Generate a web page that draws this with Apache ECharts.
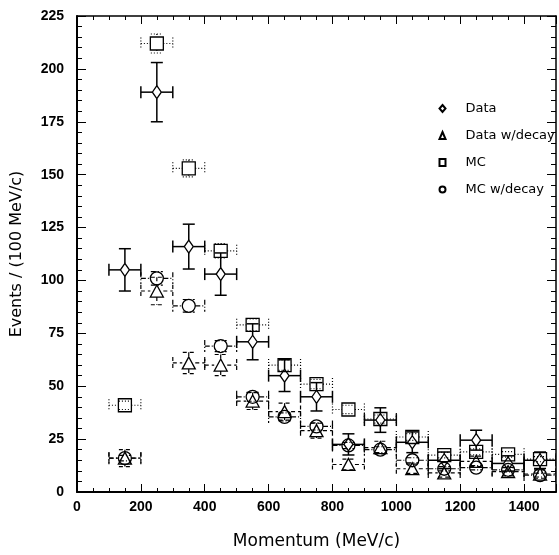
<!DOCTYPE html>
<html>
<head>
<meta charset="utf-8">
<script src="https://cdn.jsdelivr.net/npm/echarts@6/dist/echarts.min.js"></script>
<style>html,body{margin:0;padding:0;background:#fff}#c{width:559px;height:555px}</style>
</head>
<body>
<div id="c"></div>
<script>
// Bin centres (MeV/c), bin half-width 50
const binCenters = [150, 250, 350, 450, 550, 650, 750, 850, 950, 1050, 1150, 1250, 1350, 1450];

const dataVals   = [105, 189, 116, 103, 71, 55, 45, 22.5, 34, 23.5, 15, 24.5, 13.5, 15];
const dataErr    = [10, 14, 10.6, 10, 8.5, 7.5, 6.7, 5, 5.8, 4.9, 3.9, 4.7, 3.6, 3.9];

const dataDecayVals = [16, 95, 61, 60, 43, 38, 29, 13, 21, 11, 9, 14.5, 9.6, 8.5];
const dataDecayErr  = [4, 6.5, 5, 5, 4, 4, 3.5, 2.5, 3, 2.2, 2, 2.5, 2, 2];

const mcVals = [41, 212, 153, 114, 79, 60, 51, 39, 34.5, 26, 17.4, 19, 17.8, 15.5];
const mcErr  = [2, 4.5, 4, 3.4, 2.8, 2.5, 2.2, 2, 1.9, 1.6, 1.3, 1.4, 1.3, 1.2];

const mcDecayVals = [16, 101, 88, 69, 45, 35.5, 31, 22, 20, 15, 11, 11.5, 10.5, 8];
const mcDecayErr  = [1.3, 3.2, 3, 2.6, 2.1, 1.9, 1.7, 1.5, 1.4, 1.2, 1, 1, 1, 0.9];

const xTickLabels = [0, 200, 400, 600, 800, 1000, 1200, 1400];
const yTickLabels = [0, 25, 50, 75, 100, 125, 150, 175, 200, 225];

const seriesDefs = [
  {name: 'Data', vals: dataVals, err: dataErr, symbol: 'diamond', size: [9, 13], dash: null, hw: 4.5, hh: 6.5},
  {name: 'Data w/decay', vals: dataDecayVals, err: dataDecayErr, symbol: 'triangle', size: [13, 12], dash: [4, 3], hw: 6.5, hh: 6},
  {name: 'MC', vals: mcVals, err: mcErr, symbol: 'rect', size: [13, 13], dash: [1, 2], hw: 6.5, hh: 6.5},
  {name: 'MC w/decay', vals: mcDecayVals, err: mcDecayErr, symbol: 'circle', size: 13, dash: [5, 2, 1, 2], hw: 6.5, hh: 6.5}
];

const halfBin = 50;
const CAP = 6;

function makeRender(def) {
  return function (params, api) {
    const x = api.value(0), y = api.value(1), e = api.value(2);
    const c = api.coord([x, y]);
    const l = api.coord([x - halfBin, y]);
    const r = api.coord([x + halfBin, y]);
    const t = api.coord([x, y + e]);
    const b = api.coord([x, y - e]);
    const style = {stroke: '#000', lineWidth: def.dash ? 1.2 : 1.5, lineDash: def.dash || null, fill: null};
    const segs = [];
    const add = (x1, y1, x2, y2) => segs.push({type: 'line', shape: {x1, y1, x2, y2}, style});
    if (c[0] - def.hw > l[0]) add(l[0], c[1], c[0] - def.hw, c[1]);
    if (c[0] + def.hw < r[0]) add(c[0] + def.hw, c[1], r[0], c[1]);
    add(l[0], c[1] - CAP, l[0], c[1] + CAP);
    add(r[0], c[1] - CAP, r[0], c[1] + CAP);
    if (t[1] < c[1] - def.hh) add(c[0], t[1], c[0], c[1] - def.hh);
    if (b[1] > c[1] + def.hh) add(c[0], c[1] + def.hh, c[0], b[1]);
    add(c[0] - CAP, t[1], c[0] + CAP, t[1]);
    add(c[0] - CAP, b[1], c[0] + CAP, b[1]);
    return {type: 'group', children: segs};
  };
}

const series = [];
seriesDefs.forEach(def => {
  const d = binCenters.map((x, i) => [x, def.vals[i], def.err[i]]);
  series.push({
    type: 'custom', name: def.name + ' err', renderItem: makeRender(def),
    data: d, encode: {x: 0, y: 1}, clip: true, silent: true, z: 2
  });
  series.push({
    type: 'scatter', name: def.name, data: d.map(p => [p[0], p[1]]),
    symbol: def.symbol, symbolSize: def.size,
    itemStyle: {color: 'none', borderColor: '#000', borderWidth: 1.3, opacity: 1},
    z: 3, silent: true
  });
});

const labelFont = {fontFamily: 'Liberation Sans, Arial, sans-serif', fontWeight: 'bold', fontSize: 14, color: '#000'};
const titleFont = 'DejaVu Sans, sans-serif';

const chart = echarts.init(document.getElementById('c'), null, {renderer: 'canvas'});
chart.setOption({
  animation: false,
  backgroundColor: '#fff',
  grid: {left: 77, right: 1, top: 16, bottom: 55},
  legend: {
    data: seriesDefs.map(d => d.name),
    orient: 'vertical', left: 432, top: 97,
    itemWidth: 6, itemHeight: 7, itemGap: 14,
    textStyle: {fontFamily: titleFont, fontSize: 13, color: '#000', padding: [0, 0, 0, 15]}
  },
  xAxis: [{
    type: 'value', min: 0, max: 1500, interval: 200, position: 'bottom',
    name: 'Momentum (MeV/c)', nameLocation: 'middle', nameGap: 41,
    nameTextStyle: {fontFamily: titleFont, fontSize: 17, color: '#000'},
    axisLine: {show: true, onZero: false, lineStyle: {color: '#000', width: 2}},
    axisTick: {show: true, inside: true, length: 8, lineStyle: {color: '#000', width: 1}},
    minorTick: {show: true, splitNumber: 4, length: 4, lineStyle: {color: '#000', width: 1}},
    axisLabel: Object.assign({margin: 8, formatter: v => xTickLabels.includes(v) ? String(v) : ''}, labelFont),
    splitLine: {show: false}
  }, {
    type: 'value', min: 0, max: 1500, interval: 200, position: 'top',
    axisLine: {show: true, onZero: false, lineStyle: {color: '#000', width: 1.5}},
    axisTick: {show: true, inside: true, length: 8, lineStyle: {color: '#000', width: 1}},
    minorTick: {show: true, splitNumber: 4, length: 4, lineStyle: {color: '#000', width: 1}},
    axisLabel: {show: false}, splitLine: {show: false}
  }],
  yAxis: [{
    type: 'value', min: 0, max: 225, interval: 25, position: 'left',
    name: 'Events / (100 MeV/c)', nameLocation: 'middle', nameGap: 52, nameRotate: 90,
    nameTextStyle: {fontFamily: titleFont, fontSize: 16, color: '#000'},
    axisLine: {show: true, onZero: false, lineStyle: {color: '#000', width: 2}},
    axisTick: {show: true, inside: true, length: 9, lineStyle: {color: '#000', width: 1}},
    minorTick: {show: true, splitNumber: 5, length: 5, lineStyle: {color: '#000', width: 1}},
    axisLabel: Object.assign({margin: 13, formatter: v => yTickLabels.includes(v) ? String(v) : ''}, labelFont),
    splitLine: {show: false}
  }, {
    type: 'value', min: 0, max: 225, interval: 25, position: 'right',
    axisLine: {show: true, onZero: false, lineStyle: {color: '#000', width: 1.5}},
    axisTick: {show: true, inside: true, length: 9, lineStyle: {color: '#000', width: 1}},
    minorTick: {show: true, splitNumber: 5, length: 5, lineStyle: {color: '#000', width: 1}},
    axisLabel: {show: false}, splitLine: {show: false}
  }],
  series: series
});
</script>
</body>
</html>
